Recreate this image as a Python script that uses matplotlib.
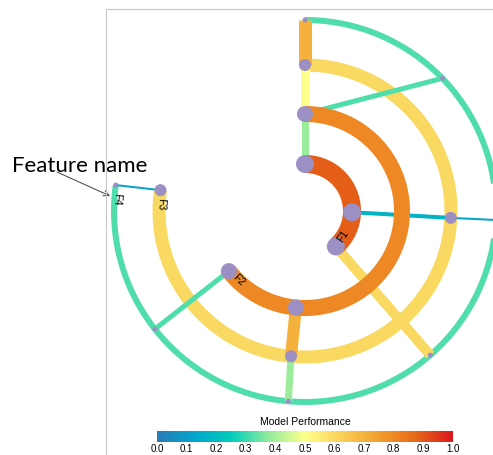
import numpy as np
import matplotlib
matplotlib.use("Agg")
import matplotlib.pyplot as plt
from matplotlib.colors import LinearSegmentedColormap, Normalize
from matplotlib.cm import ScalarMappable
from matplotlib.lines import Line2D

# ---- data -------------------------------------------------------------
features = ["F1", "F2", "F3", "F4"]
feature_perf = [0.89, 0.80, 0.60, 0.32]
feature_sweep = [139.0, 231.7, 278.2, 277.8]   # degrees, clockwise from 12 o'clock

# links between rings: (ring, angle) -> (ring, angle)
link_src_ring = [0, 1, 2, 1, 0, 2, 0, 1, 2, 1, 2]
link_src_angle = [0.0, 0.0, 0.0, 0.0, 91.5, 92.7, 139.0, 185.4, 185.5, 231.7, 278.2]
link_dst_ring = [1, 2, 3, 3, 2, 3, 3, 2, 3, 3, 3]
link_dst_angle = [0.0, 0.0, 0.0, 46.0, 92.7, 92.7, 139.0, 185.5, 185.0, 231.8, 277.8]
link_perf = [0.39, 0.50, 0.70, 0.32, 0.17, 0.12, 0.60, 0.70, 0.39, 0.32, 0.12]

cbar_ticks = [0.0, 0.1, 0.2, 0.3, 0.4, 0.5, 0.6, 0.7, 0.8, 0.9, 1.0]

# ---- style ------------------------------------------------------------
PX = 0.72                      # points per pixel at dpi 100
ring_radius = [47, 97, 146, 191]
ring_width = [18, 16, 13, 6]
node_diam = [18, 16, 12, 5]
link_width = [7, 9, 13, 5, 4, 2, 10, 12, 7, 5, 2]
node_color = "#9b8fc4"

palette = ["#2c7bb6", "#00a6ca", "#00ccbc", "#90eb9d", "#ffff8c",
           "#f9d057", "#f29e2e", "#e76818", "#d7191c"]
cmap = LinearSegmentedColormap.from_list("perf", palette)
norm = Normalize(0.0, 1.0)


def polar(r, ang):
    a = np.radians(ang)
    return r * np.sin(a), r * np.cos(a)


fig = plt.figure(figsize=(4.93, 4.56), dpi=100)
ax = fig.add_axes([0, 0, 1, 1])
ax.set_xlim(-305, 188)
ax.set_ylim(-244, 212)
ax.axis("off")

# rings (outer two first, links, then inner two on top)
def draw_ring(i, z):
    ang = np.linspace(0, feature_sweep[i], 400)
    x, y = polar(ring_radius[i], ang)
    ax.plot(x, y, color=cmap(norm(feature_perf[i])), lw=ring_width[i] * PX,
            solid_capstyle="butt", zorder=z)

draw_ring(3, 1)
draw_ring(2, 2)

for k in range(len(link_perf)):
    x0, y0 = polar(ring_radius[link_src_ring[k]], link_src_angle[k])
    x1, y1 = polar(ring_radius[link_dst_ring[k]], link_dst_angle[k])
    ax.plot([x0, x1], [y0, y1], color=cmap(norm(link_perf[k])),
            lw=link_width[k] * PX, solid_capstyle="butt", zorder=3)

draw_ring(1, 4)
draw_ring(0, 5)

# nodes: link endpoints and ring ends
nodes = set()
for k in range(len(link_perf)):
    nodes.add((link_src_ring[k], link_src_angle[k]))
    nodes.add((link_dst_ring[k], link_dst_angle[k]))
for i in range(len(features)):
    nodes.add((i, 0.0))
    nodes.add((i, feature_sweep[i]))
for ring, ang in nodes:
    x, y = polar(ring_radius[ring], ang)
    ax.scatter([x], [y], s=(node_diam[ring] * PX) ** 2, color=node_color,
               edgecolors="none", zorder=6)

# feature labels along the ring ends
for i, name in enumerate(features):
    r = ring_radius[i]
    ang = feature_sweep[i] - np.degrees(13 / r)
    x, y = polar(r - 2, ang)
    ax.text(x, y, name, fontsize=7.5, family="Liberation Sans", color="black",
            rotation=180 - ang, rotation_mode="anchor",
            ha="center", va="center", zorder=7)

# panel border
fig.add_artist(Line2D([106 / 493, 106 / 493], [0, 1 - 9.5 / 456],
                      transform=fig.transFigure, color="#c8c8c8", lw=0.8))
fig.add_artist(Line2D([106 / 493, 1], [1 - 9.5 / 456, 1 - 9.5 / 456],
                      transform=fig.transFigure, color="#c8c8c8", lw=0.8))

# callout
ax.text(12 - 305, 212 - 172, "Feature name", fontsize=16, family="Lato",
        color="black", ha="left", va="baseline", zorder=8)
ax.annotate("", xy=(110 - 305, 212 - 197), xytext=(57 - 305, 212 - 173),
            arrowprops=dict(arrowstyle="->", color="#404040", lw=0.7,
                            shrinkA=0, shrinkB=0), zorder=8)

# colour bar
cax = fig.add_axes([157 / 493, 13 / 456, 296 / 493, 11 / 456])
cb = fig.colorbar(ScalarMappable(norm=norm, cmap=cmap), cax=cax,
                  orientation="horizontal", ticks=cbar_ticks)
cb.outline.set_visible(False)
cax.set_xticklabels([f"{t:.1f}" for t in cbar_ticks])
cax.tick_params(length=0, pad=1, labelsize=7)
for lab in cax.get_xticklabels():
    lab.set_family("Liberation Sans")
cax.set_title("Model Performance", fontsize=7.5, family="Liberation Sans", pad=5)

fig.savefig("out.png", dpi=100)
